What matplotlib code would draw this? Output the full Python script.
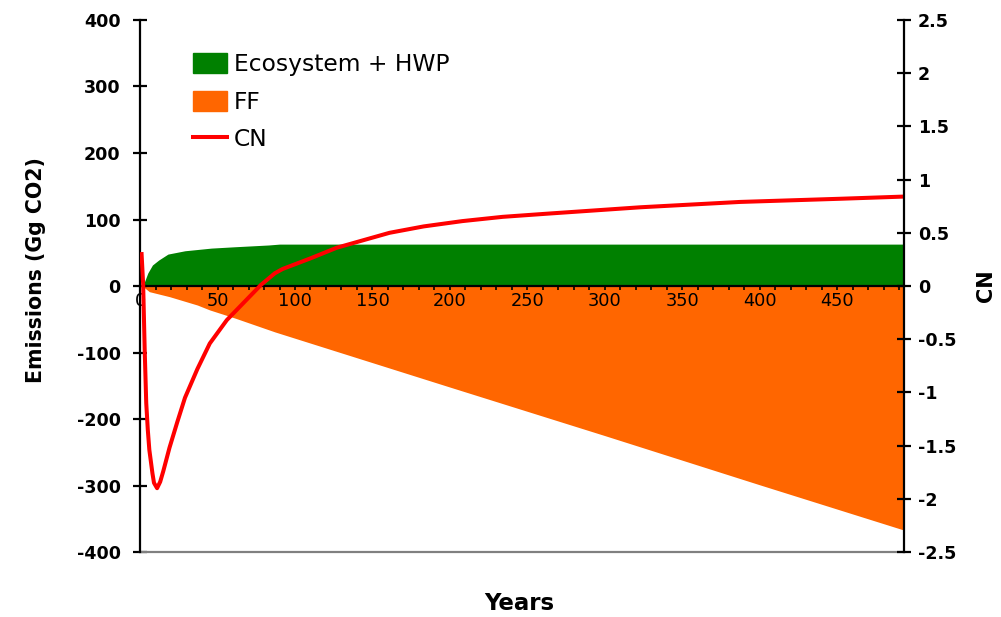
import numpy as np
import matplotlib.pyplot as plt
from matplotlib.patches import Patch
from matplotlib.lines import Line2D
from matplotlib.ticker import MultipleLocator, FormatStrFormatter

# Ecosystem + HWP emissions (Gg CO2) by year
eco_years = [1, 2, 5, 8, 12, 18, 29, 46, 61, 83, 90, 493]
eco_vals = [0, 1, 19.5, 31.6, 39, 48, 53, 57, 59, 61.7, 63, 63]

# Fossil fuel substitution (Gg CO2) by year
ff_years = [1, 2, 6, 19, 37, 45, 61, 87, 200, 300, 400, 493]
ff_vals = [0, -1, -8.5, -16, -28.6, -36, -48, -69, -152, -225, -299, -367]

# Carbon neutrality factor
cn_years = [1, 2, 3, 4, 5, 6, 8, 9, 11, 13, 15, 19, 24, 29, 37, 45, 56, 68,
            78, 87, 92, 110, 127, 144, 161, 183, 208, 234, 263, 323, 387,
            452, 492]
cn_vals = [0.30, 0.02, -0.60, -1.10, -1.35, -1.54, -1.76, -1.85, -1.90,
           -1.84, -1.74, -1.52, -1.28, -1.05, -0.78, -0.54, -0.32, -0.14,
           0.01, 0.12, 0.16, 0.26, 0.36, 0.43, 0.50, 0.56, 0.61, 0.65, 0.68,
           0.74, 0.79, 0.82, 0.84]

GREEN = '#008000'
ORANGE = '#ff6600'
RED = '#ff0000'

plt.rcParams['font.family'] = 'DejaVu Sans'
plt.rcParams['axes.unicode_minus'] = False

fig = plt.figure(figsize=(10.01, 6.17), dpi=100)
ax = fig.add_axes([0.1399, 0.1053, 0.9031 - 0.1399, 0.9676 - 0.1053])

ax.fill_between(eco_years, 0, eco_vals, color=GREEN, linewidth=0)
ax.fill_between(ff_years, 0, ff_vals, color=ORANGE, linewidth=0)

ax.set_xlim(0, 493)
ax.set_ylim(-400, 400)
ax.yaxis.set_major_locator(MultipleLocator(100))

# x axis sits on the zero line
ax.spines['bottom'].set_position(('data', 0))
ax.spines['top'].set_visible(False)
ax.spines['right'].set_visible(False)
for s in ('left', 'bottom'):
    ax.spines[s].set_linewidth(1.6)
ax.axhline(-400, color='#808080', lw=1.6, clip_on=False)

ax.xaxis.set_major_locator(MultipleLocator(50))
ax.xaxis.set_minor_locator(MultipleLocator(10))
ax.tick_params(axis='x', which='both', direction='out', length=3, width=1.2,
               pad=1, labelsize=12.8)
ax.tick_params(axis='y', direction='inout', length=10, width=1.6, pad=9,
               labelsize=12.6)
for lab in ax.get_yticklabels():
    lab.set_fontweight('bold')

ax.set_ylabel('Emissions (Gg CO2)', fontsize=14.8, fontweight='bold',
              labelpad=22)
ax.yaxis.label.set_y(0.53)
fig.text(0.519, 0.004, 'Years', ha='center', va='bottom', fontsize=16.5,
         fontweight='bold')

# CN on secondary axis
ax2 = ax.twinx()
ax2.plot(cn_years, cn_vals, color=RED, lw=2.9)
ax2.set_ylim(-2.5, 2.5)
ax2.yaxis.set_major_locator(MultipleLocator(0.5))
ax2.yaxis.set_major_formatter(FormatStrFormatter('%g'))
for s in ('top', 'left', 'bottom'):
    ax2.spines[s].set_visible(False)
ax2.spines['right'].set_linewidth(1.6)
ax2.tick_params(axis='y', direction='inout', length=10, width=1.6, pad=5,
                labelsize=12.6)
for lab in ax2.get_yticklabels():
    lab.set_fontweight('bold')
ax2.set_ylabel('CN', fontsize=15, fontweight='bold', labelpad=14)

handles = [Patch(color=GREEN), Patch(color=ORANGE),
           Line2D([], [], color=RED, lw=2.9)]
labels = ['Ecosystem + HWP', 'FF', 'CN']
ax2.legend(handles, labels, loc='upper left', bbox_to_anchor=(0.057, 0.955),
           frameon=False, fontsize=16.8, handlelength=1.45, handleheight=0.95,
           handletextpad=0.3, labelspacing=0.61, borderaxespad=0)

fig.savefig('out.png', dpi=100)
